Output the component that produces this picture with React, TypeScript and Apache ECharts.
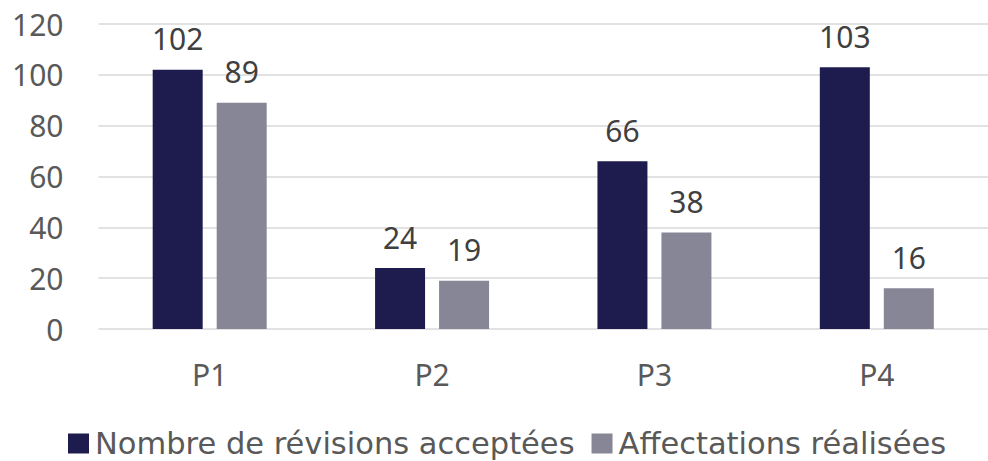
import React, { useEffect, useRef } from "react";
import * as echarts from "echarts";

const categories = ["P1", "P2", "P3", "P4"];
const revisionsAcceptees = [102, 24, 66, 103];
const affectationsRealisees = [89, 19, 38, 16];
const seriesNames = ["Nombre de révisions acceptées", "Affectations réalisées"];
const yTicks = { min: 0, max: 120, interval: 20 };

const FONT = "'Noto Sans', sans-serif";

export default function App() {
  const ref = useRef<HTMLDivElement>(null);
  useEffect(() => {
    if (!ref.current) return;
    const chart = echarts.init(ref.current, null, { renderer: "svg" });
    const label = {
      show: true,
      position: "top",
      distance: 16,
      color: "#404040",
      fontSize: 30,
      fontFamily: FONT,
    };
    chart.setOption({
      animation: false,
      grid: { left: 98.5, right: -5, top: 24, bottom: 132, containLabel: false },
      legend: {
        left: 63,
        top: 423,
        itemWidth: 21,
        itemHeight: 20,
        itemGap: 17,
        icon: "rect",
        textStyle: { color: "#595959", fontSize: 30.5, fontFamily: "'DejaVu Sans', sans-serif", padding: [0, 0, 0, 1] },
        data: seriesNames,
      },
      xAxis: {
        type: "category",
        data: categories,
        axisLine: { show: false },
        axisTick: { show: false },
        axisLabel: { color: "#595959", fontSize: 30, fontFamily: FONT, margin: 30 },
      },
      yAxis: {
        type: "value",
        min: yTicks.min,
        max: yTicks.max,
        interval: yTicks.interval,
        axisLine: { show: false },
        axisTick: { show: false },
        splitLine: { lineStyle: { color: "#d9d9d9", width: 1.5 } },
        axisLabel: { color: "#595959", fontSize: 30, fontFamily: FONT, margin: 35 },
      },
      series: [
        {
          name: seriesNames[0],
          type: "bar",
          data: revisionsAcceptees,
          barWidth: 50,
          barGap: "28%",
          itemStyle: { color: "#1e1c4f" },
          label,
        },
        {
          name: seriesNames[1],
          type: "bar",
          data: affectationsRealisees,
          barWidth: 50,
          itemStyle: { color: "#878696" },
          label,
        },
      ],
    });
    return () => chart.dispose();
  }, []);
  return (
    <div
      ref={ref}
      style={{ position: "absolute", left: 0, top: 0, width: 988, height: 461 }}
    />
  );
}
